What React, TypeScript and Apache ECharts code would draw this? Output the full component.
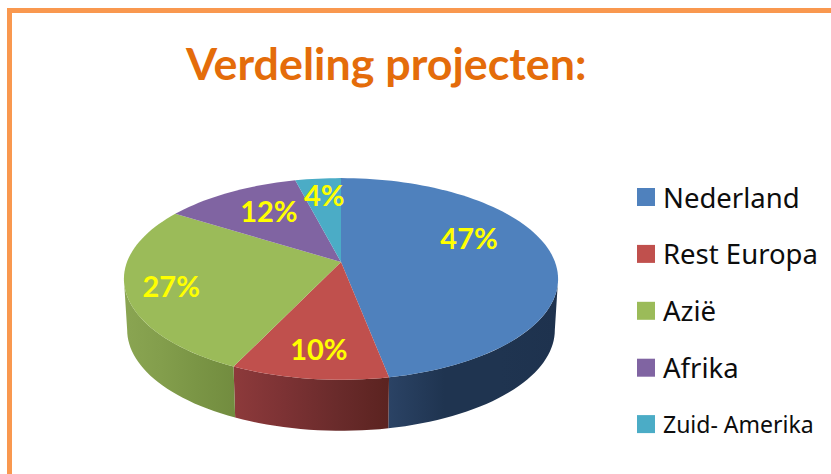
import React, { useEffect, useRef } from "react";
import * as echarts from "echarts";

const categories = ["Nederland", "Rest Europa", "Azië", "Afrika", "Zuid- Amerika"];
const values = [47, 10, 27, 12, 4];
const colors = ["#4f81bd", "#c0504d", "#9bbb59", "#8064a2", "#4bacc6"];
const wallStops = [
  ["#2b4365", "#1f3450", "#1f3450", "#1e324e"],
  ["#8d3a3b", "#7c3234", "#6a2b2b", "#5b2320"],
  ["#8aa552", "#839e4c", "#7a9545", "#728c3f"],
  ["#5c4876", "#5c4876", "#5c4876", "#5c4876"],
  ["#37788c", "#37788c", "#37788c", "#37788c"],
];
const labelOffsets = [[-9, -19], [-2.5, 16], [-32, 5], [3, -4], [-1, -10]];

const CX = 341, CY = 262, A = 214, B = 98, K = 0.168, DEPTH = 51, BOTTOM_SCALE = 0.985;
const LABEL_R = 0.65;
const FRONT_FROM = (Math.acos(-K) * 180) / Math.PI;
const FRONT_TO = 360 - FRONT_FROM;

const project = (deg: number, r = 1): [number, number] => {
  const t = (deg * Math.PI) / 180;
  const u = r * Math.sin(t);
  const v = -r * Math.cos(t);
  const w = 1 - K * v;
  return [CX + (A * u) / w, CY + (B * v) / w];
};

const total = values.reduce((a, b) => a + b, 0);
const sliceRange = (i: number): [number, number] => {
  let before = 0;
  for (let k = 0; k < i; k++) before += values[k];
  return [(before / total) * 360, ((before + values[i]) / total) * 360];
};
const arc = (a0: number, a1: number) => {
  const n = Math.max(4, Math.ceil((a1 - a0) / 2));
  const pts: [number, number][] = [];
  for (let j = 0; j <= n; j++) pts.push(project(a0 + ((a1 - a0) * j) / n));
  return pts;
};

const renderWall = (_p: any, api: any) => {
  const i = api.value(0);
  const [s0, s1] = sliceRange(i);
  const a0 = Math.max(s0, FRONT_FROM);
  const a1 = Math.min(s1, FRONT_TO);
  if (a1 <= a0) return undefined;
  const top = arc(a0, a1);
  const bottom = top
    .map(([x, y]) => [CX + (x - CX) * BOTTOM_SCALE, y + DEPTH] as [number, number])
    .reverse();
  const stops = wallStops[i];
  return {
    type: "polygon",
    shape: { points: [...top, ...bottom] },
    style: {
      fill: {
        type: "linear",
        x: 0,
        y: 0,
        x2: 1,
        y2: 0,
        colorStops: [
          { offset: 0, color: stops[0] },
          { offset: 0.33, color: stops[1] },
          { offset: 0.66, color: stops[2] },
          { offset: 1, color: stops[3] },
        ],
      },
    },
  };
};

const renderTop = (i: number) => (_p: any, api: any) => {
  const v = api.value(0);
  const [a0, a1] = sliceRange(i);
  const mid = (a0 + a1) / 2;
  const [lx, ly] = project(mid, LABEL_R);
  return {
    type: "group",
    children: [
      {
        type: "polygon",
        shape: { points: [[CX, CY], ...arc(a0, a1)] },
        style: { fill: colors[i] },
      },
      {
        type: "text",
        z2: 10,
        style: {
          x: lx + labelOffsets[i][0],
          y: ly + labelOffsets[i][1],
          text: `${v}%`,
          fill: "#ffff00",
          font: "bold 29px Lato",
          align: "center",
          verticalAlign: "middle",
        },
      },
    ],
  };
};

export default function App() {
  const ref = useRef<HTMLDivElement>(null);
  useEffect(() => {
    document.body.style.margin = "0";
    const chart = echarts.init(ref.current!, null, { renderer: "svg" });
    chart.setOption({
      animation: false,
      backgroundColor: "#ffffff",
      title: {
        text: "Verdeling projecten:",
        left: 186,
        top: 40,
        padding: 0,
        textStyle: { color: "#e46c0a", fontFamily: "Lato", fontWeight: "bold", fontSize: 44.8 },
      },
      legend: {
        orient: "vertical",
        left: 637,
        top: 183,
        padding: 0,
        itemWidth: 18,
        itemHeight: 18,
        itemGap: 28.9,
        selectedMode: false,
        icon: "rect",
        textStyle: {
          fontFamily: "Noto Sans",
          fontSize: 27.5,
          lineHeight: 27,
          color: "#0d0d0d",
          padding: [0, 0, 0, 3],
        },
        data: categories.map((name, i) => ({
          name,
          textStyle: i === 4 ? { fontSize: 23, lineHeight: 27 } : undefined,
        })),
      },
      graphic: [
        {
          type: "polyline",
          silent: true,
          shape: { points: [[9.5, 474], [9.5, 10.5], [831, 10.5]] },
          style: { stroke: "#f9984f", lineWidth: 5, fill: "none" },
        },
      ],
      series: [
        {
          type: "custom",
          name: "wanden",
          coordinateSystem: "none",
          renderItem: renderWall,
          data: values.map((_, i) => [i]),
        },
        ...categories.map((name, i) => ({
          type: "custom",
          name,
          coordinateSystem: "none",
          color: colors[i],
          itemStyle: { color: colors[i] },
          renderItem: renderTop(i),
          data: [[values[i]]],
        })),
      ],
    });
    return () => chart.dispose();
  }, []);
  return <div ref={ref} style={{ width: 831, height: 474 }} />;
}
